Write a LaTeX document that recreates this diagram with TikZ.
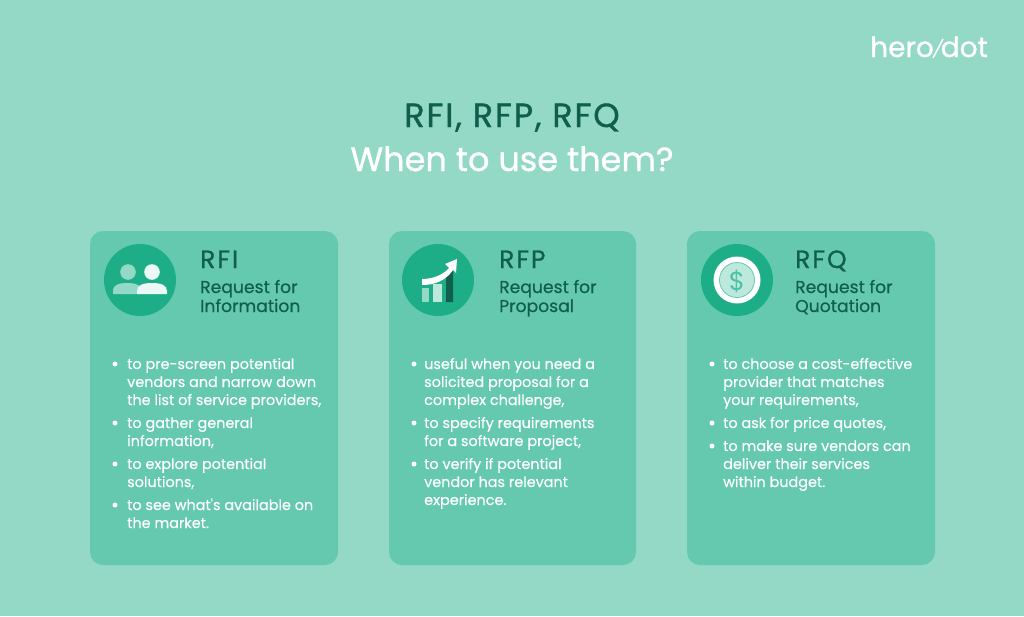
\documentclass[tikz,border=0pt]{standalone}
\usepackage{fontspec}
\setmainfont{Poppins}
\newfontface\medfont{Poppins}[FakeBold=0.4]
\newfontface\semifont{Poppins}[FakeBold=1.0]
\newfontface\capsfont{Poppins}[FakeBold=1.0,LetterSpace=5.5]
\newfontface\headfont{Poppins}[FakeBold=0.9,LetterSpace=8]
\definecolor{bgc}{HTML}{94D9C5}
\definecolor{cardc}{HTML}{65C9B0}
\definecolor{iconc}{HTML}{1DAE88}
\definecolor{darkc}{HTML}{0F5F4C}
\definecolor{lightc}{HTML}{BDE8DC}
\definecolor{midc}{HTML}{94D9C5}
\tikzset{
  x=1pt,y=-1pt,
  cardbox/.style={fill=cardc,draw=none,rounded corners=13pt},
  icondisc/.style={fill=iconc,draw=none},
  titledark/.style={anchor=base,inner sep=0pt,text=darkc,font=\capsfont\fontsize{33.5}{36}\selectfont},
  titlelight/.style={anchor=base,inner sep=0pt,text=white,font=\semifont\fontsize{33.5}{36}\selectfont},
  headtxt/.style={anchor=base west,inner sep=0pt,text=darkc,font=\headfont\fontsize{25}{26}\selectfont},
  subtxt/.style={anchor=base west,inner sep=0pt,text=darkc,font=\medfont\fontsize{17.2}{20}\selectfont},
  bodytxt/.style={anchor=base west,inner sep=0pt,text=white,font=\medfont\fontsize{14.4}{18}\selectfont},
  bulletdot/.style={fill=white,draw=none,circle,minimum size=5pt,inner sep=0pt},
  logotxt/.style={inner sep=0pt,text=white,font=\semifont\fontsize{28}{30}\selectfont},
}
\newcommand{\bodyline}[4]{\node[bodytxt] (#1) at (#2,#3) {#4};}
\newcommand{\dotat}[3]{\node[bulletdot] (#1) at (#2,#3) {};}
\begin{document}
\begin{tikzpicture}
\useasboundingbox (0,0) rectangle (1024,616);
\fill[bgc] (0,0) rectangle (1024,616);
% logo
\node[logotxt,anchor=base west] (logoa) at (870,57) {hero};
\draw[white,line width=1.5pt] (933,58) -- (943,39);
\node[logotxt,anchor=base east] (logob) at (988,57) {dot};
% title
\node[titledark] (t1) at (512,127) {RFI, RFP, RFQ};
\node[titlelight] (t2) at (512,171) {When to use them?};
% cards
\fill[cardbox] (90,231) rectangle (338,565);
\fill[cardbox] (389,231) rectangle (636,565);
\fill[cardbox] (687,231) rectangle (935,565);
% icon 1
\fill[icondisc] (140,280) circle (36);
\fill[midc] (128,272) circle (7.8);
\fill[lightc!30!white] (152,272) circle (7.8);
\fill[midc] (113,294) -- (113,291) .. controls (113,284) and (120,283) .. (128,283) .. controls (133,283) and (136,284) .. (140,286) -- (140,294) -- cycle;
\fill[lightc!30!white] (137,294) -- (137,291) .. controls (137,285) and (143,283) .. (152,283) .. controls (161,283) and (167,285) .. (167,291) -- (167,294) -- cycle;
% icon 2
\fill[icondisc] (438,280) circle (36);
\fill[midc] (422,288) rectangle (429,302);
\fill[lightc] (433,284) rectangle (442,302);
\fill[darkc] (446,277) -- (453,271) -- (453,302) -- (446,302) -- cycle;
\fill[white] (422,279) .. controls (434,279) and (444,274) .. (449,268) -- (445,264) -- (457,259) -- (456,273) -- (453,270) .. controls (446,280) and (436,285) .. (422,285) -- cycle;
% icon 3
\fill[icondisc] (737,280) circle (36);
\fill[white] (737,280) circle (23.5);
\fill[lightc,draw=cardc,line width=0.8pt] (737,280) circle (17.5);
\node[inner sep=0pt,text=cardc!70!iconc,font=\fontsize{26}{28}\selectfont] (dollar) at (737,281) {\$};
% card heads
\node[headtxt] (h1) at (200,268) {RFI};
\node[subtxt] (h1a) at (200,293) {Request for};
\node[subtxt] (h1b) at (200,312) {Information};
\node[headtxt] (h2) at (499,268) {RFP};
\node[subtxt] (h2a) at (499,293) {Request for};
\node[subtxt] (h2b) at (499,312) {Proposal};
\node[headtxt] (h3) at (795,268) {RFQ};
\node[subtxt] (h3a) at (795,293) {Request for};
\node[subtxt] (h3b) at (795,312) {Quotation};
% card 1 body
\dotat{d11}{115}{364}\dotat{d12}{115}{423}\dotat{d13}{115}{464}\dotat{d14}{115}{505}
\bodyline{a1}{127}{369}{to pre-screen potential}
\bodyline{a2}{127}{387}{vendors and narrow down}
\bodyline{a3}{127}{405}{the list of service providers,}
\bodyline{a4}{127}{428}{to gather general}
\bodyline{a5}{127}{446}{information,}
\bodyline{a6}{127}{469}{to explore potential}
\bodyline{a7}{127}{487}{solutions,}
\bodyline{a8}{127}{510}{to see what's available on}
\bodyline{a9}{127}{528}{the market.}
% card 2 body
\dotat{d21}{414}{364}\dotat{d22}{414}{423}\dotat{d23}{414}{464}
\bodyline{b1}{424}{369}{useful when you need a}
\bodyline{b2}{424}{387}{solicited proposal for a}
\bodyline{b3}{424}{405}{complex challenge,}
\bodyline{b4}{424}{428}{to specify requirements}
\bodyline{b5}{424}{446}{for a software project,}
\bodyline{b6}{424}{469}{to verify if potential}
\bodyline{b7}{424}{487}{vendor has relevant}
\bodyline{b8}{424}{505}{experience.}
% card 3 body
\dotat{d31}{712}{364}\dotat{d32}{712}{423}\dotat{d33}{712}{446}
\bodyline{c1}{723}{369}{to choose a cost-effective}
\bodyline{c2}{723}{387}{provider that matches}
\bodyline{c3}{723}{405}{your requirements,}
\bodyline{c4}{723}{428}{to ask for price quotes,}
\bodyline{c5}{723}{451}{to make sure vendors can}
\bodyline{c6}{723}{469}{deliver their services}
\bodyline{c7}{723}{487}{within budget.}
\end{tikzpicture}
\end{document}
